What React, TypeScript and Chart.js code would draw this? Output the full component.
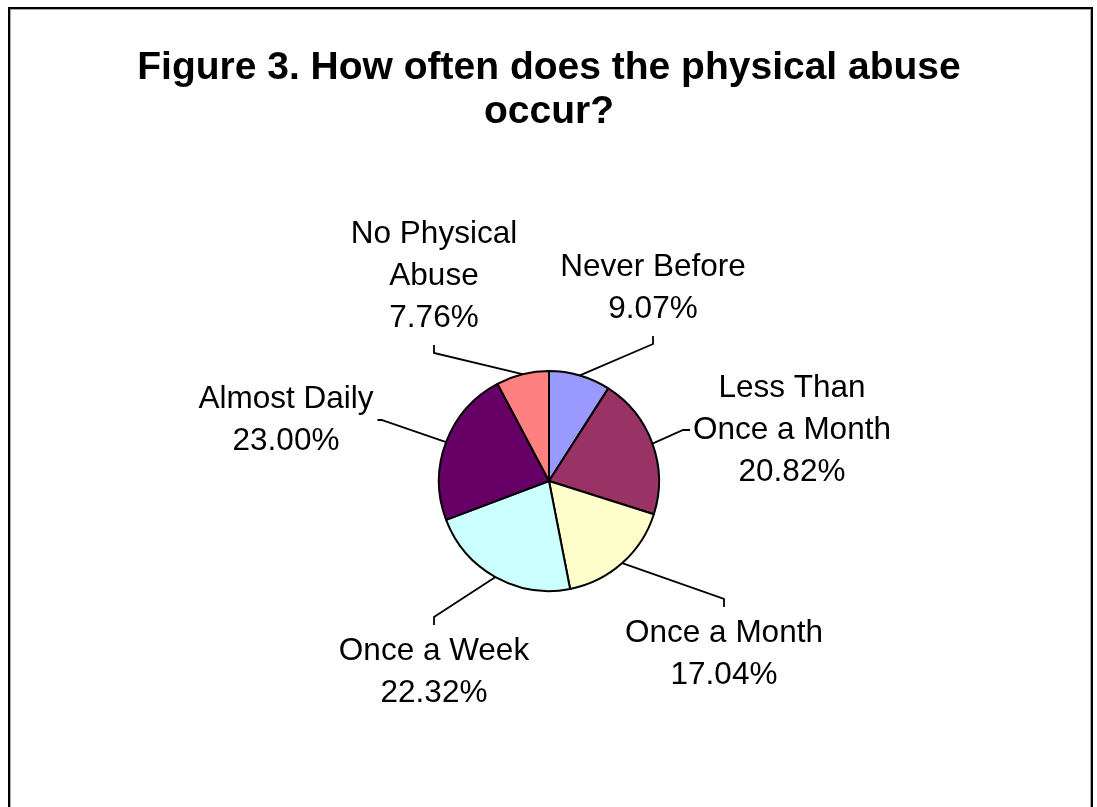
import React, { useEffect, useRef } from 'react';
import { Chart, registerables } from 'chart.js';

Chart.register(...registerables);

// ---- data ----
const categories = [
  'Never Before',
  'Less Than Once a Month',
  'Once a Month',
  'Once a Week',
  'Almost Daily',
  'No Physical Abuse',
];
const labelLines = [
  ['Never Before'],
  ['Less Than', 'Once a Month'],
  ['Once a Month'],
  ['Once a Week'],
  ['Almost Daily'],
  ['No Physical', 'Abuse'],
];
const values = [9.07, 20.82, 17.04, 22.32, 23.0, 7.76];
const sliceColors = ['#9999FF', '#993366', '#FFFFCC', '#CCFFFF', '#660066', '#FF8080'];
const titleLines = ['Figure 3. How often does the physical abuse', 'occur?'];

// ---- layout (label block centre relative to pie centre, leader attach side) ----
const labelOffsets = [
  [104, -193],
  [243, -51],
  [175, 173],
  [-115, 191],
  [-263, -61],
  [-115, -205],
];
const leaderSides = ['bottom', 'left', 'top', 'top', 'right', 'bottom'];

const FONT = '"Liberation Sans", Arial, Helvetica, sans-serif';
const LABEL_SIZE = 31.5;
const LINE_H = 42;

const labelPlugin = {
  id: 'pieLabels',
  afterDatasetsDraw(chart: any) {
    const ctx = chart.ctx as CanvasRenderingContext2D;
    const meta = chart.getDatasetMeta(0);
    ctx.save();
    ctx.font = `${LABEL_SIZE}px ${FONT}`;
    ctx.fillStyle = '#000';
    ctx.strokeStyle = '#000';
    ctx.lineWidth = 1.8;
    ctx.textAlign = 'center';
    ctx.textBaseline = 'middle';
    meta.data.forEach((arc: any, i: number) => {
      const { x, y, startAngle, endAngle, outerRadius } = arc.getProps(
        ['x', 'y', 'startAngle', 'endAngle', 'outerRadius'],
        true
      );
      const mid = (startAngle + endAngle) / 2;
      const ex = x + Math.cos(mid) * outerRadius;
      const ey = y + Math.sin(mid) * outerRadius;
      const lines = [...labelLines[i], values[i].toFixed(2) + '%'];
      const cx = x + labelOffsets[i][0];
      const cy = y + labelOffsets[i][1];
      const h = lines.length * LINE_H;
      const w = Math.max(...lines.map((l) => ctx.measureText(l).width));
      let endX = cx, endY = cy, elX = cx, elY = cy;
      const side = leaderSides[i];
      if (side === 'bottom') {
        endY = cy + h / 2 + 6; elY = endY + 8;
      } else if (side === 'top') {
        endY = cy - h / 2 - 5; elY = endY - 8;
      } else if (side === 'left') {
        endX = cx - w / 2 - 3; elX = endX - 7;
      } else {
        endX = cx + w / 2 + 4; elX = endX + 4;
      }
      ctx.beginPath();
      ctx.moveTo(ex, ey);
      ctx.lineTo(elX, elY);
      ctx.lineTo(endX, endY);
      ctx.stroke();
      lines.forEach((l, k) => {
        ctx.fillText(l, cx, cy - h / 2 + LINE_H * (k + 0.5));
      });
    });
    ctx.restore();
  },
};

export default function App() {
  const ref = useRef<HTMLCanvasElement>(null);
  useEffect(() => {
    const chart = new Chart(ref.current as HTMLCanvasElement, {
      type: 'pie',
      data: {
        labels: categories,
        datasets: [
          {
            data: values,
            backgroundColor: sliceColors,
            borderColor: '#000',
            borderWidth: 2,
            radius: 110,
          } as any,
        ],
      },
      options: {
        responsive: false,
        animation: false,
        layout: { padding: { left: 20, right: 23, top: 0, bottom: 11 } },
        plugins: {
          legend: { display: false },
          tooltip: { enabled: false },
          title: {
            display: true,
            text: titleLines,
            color: '#000',
            font: { family: FONT, size: 39, weight: 'bold', lineHeight: 1.128 },
            padding: { top: 37, bottom: 0 },
          },
        },
      } as any,
      plugins: [labelPlugin],
    });
    return () => chart.destroy();
  }, []);

  return (
    <div
      style={{
        position: 'fixed',
        left: 8,
        top: 7,
        width: 1081,
        height: 830,
        border: '2px solid #000',
        boxShadow: 'inset 0 0 0 1px #a8a8a8',
        background: '#fff',
      }}
    >
      <canvas ref={ref} width={1081} height={830} style={{ display: 'block' }} />
    </div>
  );
}
